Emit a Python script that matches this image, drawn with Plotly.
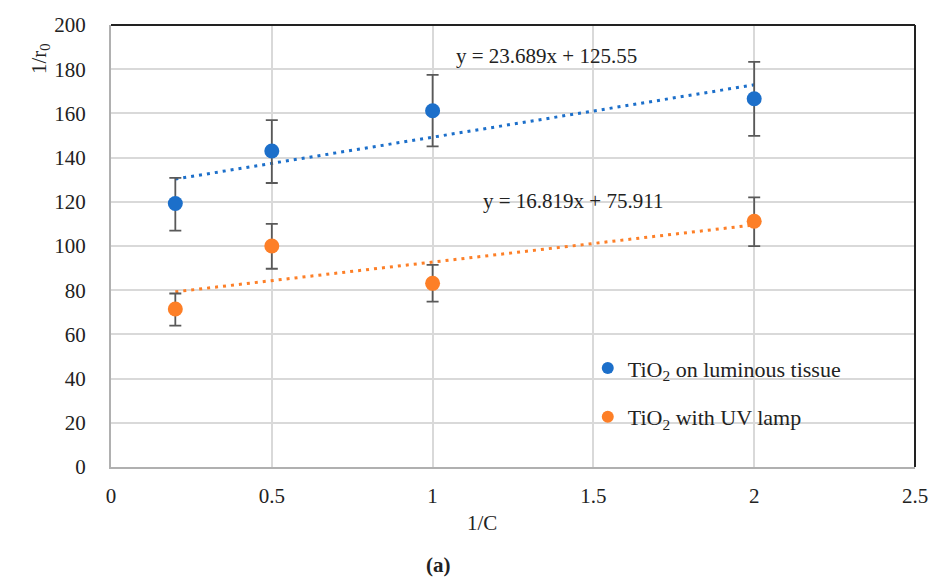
import plotly.graph_objects as go

# Data
x_vals = [0.2, 0.5, 1.0, 2.0]
tissue_y = [119.2, 143.0, 161.2, 166.6]
tissue_err_plus = [11.6, 14.0, 16.2, 16.7]
tissue_err_minus = [12.2, 14.5, 16.1, 16.8]
uv_y = [71.5, 100.0, 83.1, 111.2]
uv_err_plus = [7.0, 10.0, 8.4, 10.8]
uv_err_minus = [7.5, 10.3, 8.3, 11.3]

tissue_slope, tissue_intercept = 23.689, 125.55
uv_slope, uv_intercept = 16.819, 75.911
trend_x = [0.2, 2.0]

tissue_name = "TiO<sub>2</sub> on luminous tissue"
uv_name = "TiO<sub>2</sub> with UV lamp"
x_ticks = [0, 0.5, 1, 1.5, 2, 2.5]
x_ticklabels = ["0", "0.5", "1", "1.5", "2", "2.5"]

BLUE = "#1c6fca"
ORANGE = "#fd7f27"
ERR = "#595959"
FONT = "Liberation Serif"

fig = go.Figure()

fig.add_trace(go.Scatter(
    x=trend_x, y=[tissue_slope * v + tissue_intercept for v in trend_x],
    mode="lines", line=dict(color=BLUE, width=3, dash="3px,5px"),
    showlegend=False, hoverinfo="skip"))
fig.add_trace(go.Scatter(
    x=trend_x, y=[uv_slope * v + uv_intercept for v in trend_x],
    mode="lines", line=dict(color=ORANGE, width=3, dash="3px,5px"),
    showlegend=False, hoverinfo="skip"))

fig.add_trace(go.Scatter(
    x=x_vals, y=tissue_y, mode="markers", name=tissue_name, legendgroup="a",
    marker=dict(color=BLUE, size=15),
    error_y=dict(type="data", symmetric=False, array=tissue_err_plus,
                 arrayminus=tissue_err_minus, color=ERR, thickness=1.8, width=6)))
fig.add_trace(go.Scatter(
    x=x_vals, y=uv_y, mode="markers", name=uv_name, legendgroup="b",
    marker=dict(color=ORANGE, size=15),
    error_y=dict(type="data", symmetric=False, array=uv_err_plus,
                 arrayminus=uv_err_minus, color=ERR, thickness=1.8, width=6)))

fig.update_layout(
    width=929, height=588,
    margin=dict(l=111, r=14, t=25, b=121, autoexpand=False),
    paper_bgcolor="white", plot_bgcolor="white",
    font=dict(family=FONT, size=21, color="#222222"),
    showlegend=True,
    legend=dict(x=0.593, y=0.168, xanchor="left", yanchor="middle",
                bgcolor="rgba(0,0,0,0)", tracegroupgap=17,
                font=dict(family=FONT, size=22, color="#222222"),
                itemsizing="constant"),
    xaxis=dict(range=[0, 2.5], tickvals=x_ticks, ticktext=x_ticklabels,
               showgrid=True, gridcolor="#d9d9d9", gridwidth=1.5,
               showline=True, linecolor="#b0b0b0", linewidth=2,
               zeroline=False, ticks="", ticklabelstandoff=9,
               automargin=False, tickfont=dict(size=21)),
    yaxis=dict(range=[0, 200], dtick=20,
               showgrid=True, gridcolor="#d9d9d9", gridwidth=1.5,
               showline=True, linecolor="#b0b0b0", linewidth=2,
               zeroline=False, ticks="", ticklabelstandoff=19,
               automargin=False, tickfont=dict(size=21)),
)

# top and right frame lines
fig.add_shape(type="line", xref="paper", yref="paper", x0=0, x1=1, y0=1, y1=1,
              line=dict(color="#222222", width=2))
fig.add_shape(type="line", xref="paper", yref="paper", x0=1, x1=1, y0=0, y1=1,
              line=dict(color="#222222", width=2))

fig.add_annotation(text="y = 23.689x + 125.55", x=1.354, y=186, xref="x", yref="y",
                   xanchor="center", yanchor="middle",
                   showarrow=False, font=dict(size=21))
fig.add_annotation(text="y = 16.819x + 75.911", x=1.435, y=120.4, xref="x", yref="y",
                   xanchor="center", yanchor="middle",
                   showarrow=False, font=dict(size=21))
fig.add_annotation(text="1/r<sub>0</sub>", textangle=-90, xref="paper", yref="paper",
                   x=-0.0885, y=0.925, xanchor="center", yanchor="middle",
                   showarrow=False, font=dict(size=21))
fig.add_annotation(text="1/C", xref="paper", yref="paper",
                   x=0.461, y=-0.127, xanchor="center", yanchor="middle",
                   showarrow=False, font=dict(size=21))
fig.add_annotation(text="<b>(a)</b>", xref="paper", yref="paper",
                   x=0.407, y=-0.222, xanchor="center", yanchor="middle",
                   showarrow=False, font=dict(size=21))

fig.write_html("out.html")
